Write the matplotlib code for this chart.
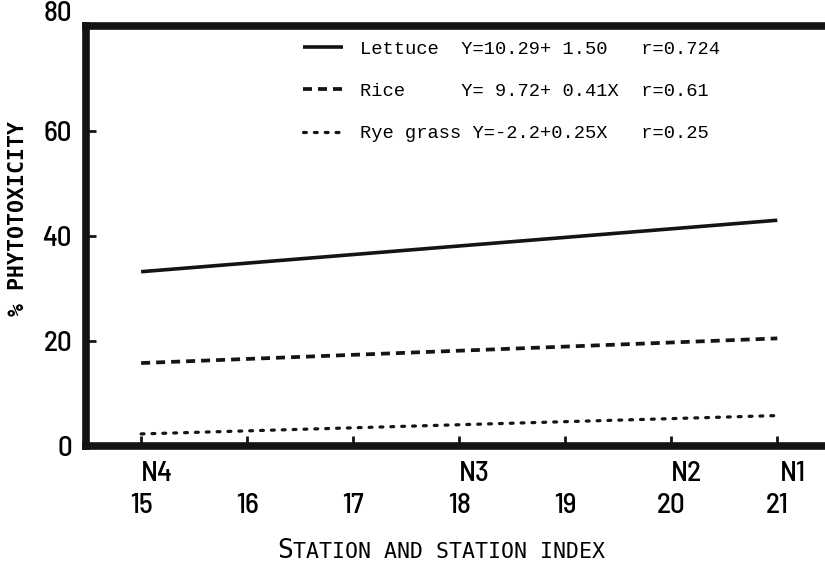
import matplotlib
matplotlib.use("Agg")
from matplotlib import pyplot as plt
from matplotlib import transforms

# station index range and fitted lines (end points)
x = [15, 21]
lettuce = [33.2, 43.0]
rice = [15.8, 20.5]
rye = [2.3, 5.8]

ticks = [15, 16, 17, 18, 19, 20, 21]
stations = ['N4', 'N3', 'N2', 'N1']
station_x = [15, 18, 20, 21]

labels = ['Lettuce  Y=10.29+ 1.50   r=0.724',
          'Rice     Y= 9.72+ 0.41X  r=0.61',
          'Rye grass Y=-2.2+0.25X   r=0.25']

narrow = ['Barlow Semi Condensed', 'DejaVu Sans']
mono = ['DejaVu Sans Mono']

fig = plt.figure(figsize=(8.25, 5.64), dpi=100)
ax = fig.add_axes([86/825, 1-446/564, 1-86/825, (446-26)/564])

ink = '#141414'
l1, = ax.plot(x, lettuce, color=ink, lw=2.6, solid_capstyle='butt')
l2, = ax.plot(x, rice, color=ink, lw=2.7, linestyle=(0, (2.4, 1.6)))
l3, = ax.plot(x, rye, color=ink, lw=2.3, linestyle=(0, (0.9, 2.5)), dash_capstyle='round')

ax.set_xlim(14.48, 21.45)
ax.set_ylim(0, 80)

for s in ['left', 'top', 'bottom']:
    ax.spines[s].set_linewidth(5.5)
    ax.spines[s].set_color(ink)
ax.spines['right'].set_visible(False)

ax.set_yticks([0, 20, 40, 60, 80])
ax.set_yticklabels(['0', '20', '40', '60', '80'], fontfamily=narrow, fontsize=21, fontweight='medium')
ax.set_xticks(ticks)
ax.set_xticklabels([str(t) for t in ticks], fontfamily=narrow, fontsize=21, fontweight='medium')
ax.tick_params(axis='y', direction='in', length=7, width=2, pad=10, color=ink)
ax.tick_params(axis='x', direction='in', length=7, width=2, pad=34, color=ink)

# the "80" sits a bit above the top line in the original
lab80 = ax.get_yticklabels()[-1]
lab80.set_transform(lab80.get_transform() + transforms.ScaledTranslation(0, 15/100, fig.dpi_scale_trans))

for name, sx in zip(stations, station_x):
    ax.annotate(name, xy=(sx, 0), xycoords=('data', 'axes fraction'),
                xytext=(11, -20), textcoords='offset points',
                ha='center', va='center', fontfamily=narrow, fontsize=21, fontweight='medium')

# y label and small-caps x label
fig.text(18/825, 1-218/564, '% PHYTOTOXICITY', rotation=90, ha='center', va='center',
         fontfamily=mono, fontsize=15.5, fontweight='bold')
fig.text(277/825, 1-558/564, 'S', ha='left', va='baseline', fontfamily=mono, fontsize=19)
fig.text(293/825, 1-558/564, 'TATION AND STATION INDEX', ha='left', va='baseline',
         fontfamily=mono, fontsize=15.5)

ax.legend([l1, l2, l3], labels, loc='upper left', bbox_to_anchor=(294/825, 1-31/564),
          bbox_transform=fig.transFigure, frameon=False, borderpad=0,
          prop={'family': 'Liberation Mono', 'size': 13.5},
          handlelength=2.1, handletextpad=0.9, labelspacing=1.35)

fig.savefig('out.png', dpi=100)
